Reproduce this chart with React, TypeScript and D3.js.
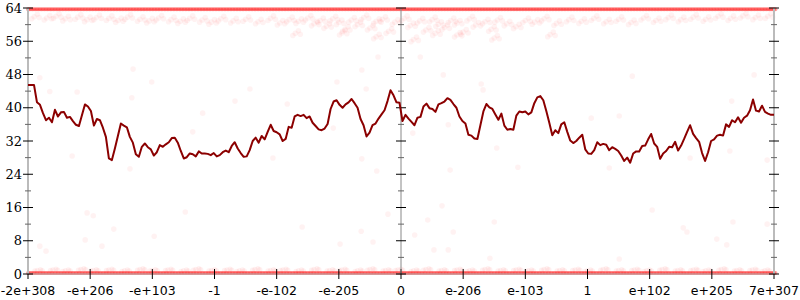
import React from "react";
import * as d3 from "d3";

const W = 800;
const H = 300;

const xTickLabels = ["-2e+308", "-e+206", "-e+103", "-1", "-e-102", "-e-205", "0", "e-206", "e-103", "1", "e+102", "e+205", "7e+307"];
const yMajorTicks = [0, 8, 16, 24, 32, 40, 48, 56, 64];
const yMinorTicks = [4, 12, 20, 28, 36, 44, 52, 60];

// moving average line, evenly sampled across the whole x range
const lineValues = [
  45.5, 45.5, 45.5, 41.3, 40.7, 38.7, 37.0, 37.6, 36.5, 39.5, 37.9, 38.9, 39.0, 37.6, 37.8, 36.8, 35.9, 35.6, 38.2, 40.8,
  40.3, 39.2, 35.7, 37.3, 37.0, 35.2, 33.0, 27.8, 27.4, 30.2, 33.2, 36.2, 35.7, 35.3, 33.0, 31.6, 28.8, 28.2, 30.6, 31.4,
  30.5, 30.0, 28.5, 29.3, 31.0, 30.6, 31.2, 31.7, 32.7, 32.8, 31.6, 29.6, 27.8, 28.1, 29.0, 28.8, 28.3, 29.5,
  29.0, 29.0, 28.9, 28.6, 29.1, 28.3, 28.6, 29.3, 29.7, 29.3, 30.8, 31.7, 30.2, 29.1, 28.2, 28.3, 29.8, 32.0, 32.8, 31.6,
  33.2, 32.4, 34.2, 35.9, 34.4, 34.1, 33.6, 32.0, 32.5, 35.4, 35.2, 37.9, 38.3, 38.0, 38.3, 37.5, 37.9, 36.4, 35.6, 34.8,
  34.6, 35.0, 36.1, 39.7, 41.5, 41.8, 40.7, 40.0, 40.8, 41.3, 42.1, 41.1, 40.0, 37.3, 35.8, 33.1, 34.0, 35.8, 36.2, 37.4,
  38.4, 39.4, 41.6, 44.2, 43.0, 41.3, 41.2,
  36.8, 38.3, 37.4, 36.6, 35.8, 37.6, 37.8, 40.3, 41.0, 39.9, 39.7, 39.0, 40.8, 41.1, 41.5, 42.3, 41.9, 40.9, 40.0, 37.9,
  36.8, 36.2, 33.5, 33.3, 32.6, 32.5, 35.8, 39.1, 40.9, 40.1, 39.7, 38.4, 37.1, 38.6, 35.7, 34.7, 34.9, 34.7, 38.1, 39.1,
  38.9, 39.1, 38.4, 38.9, 41.1, 42.5, 42.8, 41.8, 39.2, 36.4, 33.4, 34.6, 33.9, 36.0, 36.5, 34.2, 32.1, 31.5, 32.0, 32.8,
  33.5, 30.0, 29.0, 28.9, 29.8, 31.7,
  31.0, 31.3, 31.1, 29.8, 30.5, 30.1, 29.6, 28.5, 27.2, 28.0, 26.8, 29.0, 29.5, 29.5, 30.8, 30.9, 32.4, 33.7, 31.4, 30.6,
  27.7, 29.0, 29.6, 30.6, 30.5, 31.8, 29.7, 30.9, 32.5, 34.2, 35.8, 33.7, 32.7, 31.8, 29.1, 27.2, 29.3, 32.0, 32.4, 33.3,
  33.5, 33.3, 36.0, 35.4, 37.0, 36.5, 37.7, 36.4, 37.6, 38.1, 39.4, 42.0, 39.3, 39.1, 40.5, 39.0, 38.6, 38.3, 38.3,
];

// values that pile up at the extremes
const edgeValues = [63.7, 0.25];

// faint dots just below the ceiling: [x position in label units, value]
const upperBand: [number, number][] = [
  [0.1, 61.9], [0.3, 61.6], [0.45, 62.0], [0.6, 61.4], [0.8, 61.8], [0.95, 61.2], [1.1, 61.7], [1.3, 61.5], [1.45, 61.0], [1.6, 61.8],
  [1.8, 61.3], [1.95, 60.9], [2.1, 61.6], [2.3, 61.2], [2.45, 60.8], [2.6, 61.5], [2.8, 61.1], [2.95, 60.6], [3.1, 61.4], [3.3, 60.9],
  [3.5, 61.3], [3.7, 60.7], [3.9, 61.5], [4.05, 60.4], [4.2, 61.2], [4.35, 60.8], [4.5, 61.6], [4.6, 60.2], [4.7, 61.0], [4.8, 59.6],
  [4.9, 61.4], [5.0, 60.5], [5.1, 58.9], [5.2, 61.1], [5.3, 60.0], [5.4, 61.7], [5.5, 59.2], [5.6, 60.8], [5.7, 61.3], [5.8, 58.4],
  [5.9, 60.6], [6.05, 61.5], [6.15, 59.8], [6.3, 60.9], [6.4, 58.7], [6.5, 61.2], [6.6, 60.1], [6.7, 59.3], [6.8, 61.0], [6.9, 60.4],
  [7.0, 58.2], [7.1, 61.4], [7.2, 59.9], [7.35, 60.7], [7.45, 58.9], [7.55, 61.1], [7.7, 60.2], [7.85, 59.5], [8.0, 61.0], [8.15, 60.6],
  [8.3, 61.4], [8.5, 60.3], [8.7, 61.2], [8.9, 60.8], [9.1, 61.5], [9.3, 60.7], [9.5, 61.3], [9.7, 60.5], [9.9, 61.6], [10.1, 61.0],
  [10.3, 61.7], [10.5, 61.2], [10.7, 61.8], [10.9, 61.3], [11.1, 62.0], [11.3, 61.5], [11.5, 62.1], [11.7, 61.7], [11.9, 62.0],
  [5.6, 57.1], [6.2, 56.4], [6.9, 57.5], [7.5, 56.8], [4.3, 57.9], [8.4, 57.6], [5.05, 58.0], [6.55, 57.9],
];

// faint dots just above the floor
const lowerBand: [number, number][] = [
  [0.15, 0.9], [0.4, 1.0], [0.6, 0.8], [0.85, 1.1], [1.05, 0.9], [1.3, 1.0], [1.55, 0.8], [1.8, 1.1], [2.0, 0.9], [2.25, 1.0],
  [2.5, 0.8], [2.7, 1.1], [2.95, 0.9], [3.2, 1.0], [3.4, 0.8], [3.65, 1.1], [3.9, 0.9], [4.1, 1.0], [4.35, 0.8], [4.6, 1.1],
  [4.85, 0.9], [5.05, 1.0], [5.3, 0.8], [5.5, 1.1], [5.75, 0.9], [5.95, 1.0], [6.2, 0.8], [6.4, 1.1], [6.65, 0.9], [6.9, 1.0],
  [7.1, 0.8], [7.35, 1.1], [7.6, 0.9], [7.85, 1.0], [8.05, 0.8], [8.3, 1.1], [8.55, 0.9], [8.8, 1.0], [9.0, 0.8], [9.25, 1.1],
  [9.5, 0.9], [9.75, 1.0], [9.95, 0.8], [10.2, 1.1], [10.45, 0.9], [10.7, 1.0], [10.9, 0.8], [11.15, 1.1], [11.4, 0.9], [11.65, 1.0],
  [11.85, 0.8],
];

// sparse scattered dots
const scatter: [number, number][] = [
  [1.69, 49.3], [0.19, 47.2], [0.35, 43.9], [0.79, 43.8], [1.99, 46.2], [1.67, 42.4],
  [0.95, 14.7], [1.05, 14.0], [0.19, 6.7], [0.29, 5.5], [0.92, 8.2], [1.19, 6.7], [1.38, 10.8], [2.03, 9.1], [2.53, 14.9],
  [5.63, 52.2], [5.37, 49.1], [6.31, 52.2], [6.68, 47.9], [7.32, 44.3], [4.97, 46.2], [5.44, 44.5],
  [6.66, 16.4], [5.79, 14.4], [6.43, 13.0], [5.36, 10.3], [6.22, 9.4], [6.84, 10.1], [5.02, 7.2], [5.55, 7.7], [6.53, 5.8],
  [6.76, 5.8], [7.43, 3.8], [7.5, 12.5], [4.41, 11.3],
  [9.72, 47.6], [11.68, 47.9],
  [10.04, 15.4], [10.54, 11.1], [10.6, 10.1], [11.34, 12.5], [11.89, 12.0], [11.08, 8.4], [11.24, 7.0], [9.51, 3.6],
  [0.71, 28.4], [1.64, 25.3], [2.65, 34.2],
  [3.57, 44.5], [3.33, 41.6], [2.81, 38.7], [4.17, 40.9], [3.94, 27.9], [5.37, 27.7], [5.61, 24.8], [4.91, 35.1],
  [7.29, 45.7], [6.76, 35.9], [6.19, 33.9], [7.54, 30.3], [6.79, 25.0], [9.06, 37.5], [7.88, 25.7],
  [9.51, 38.0], [11.32, 41.6], [10.65, 27.9], [11.29, 29.6], [11.89, 27.4], [9.35, 25.5],
];

// small spreads used to render each band sample as a soft cluster
const bandSpread: [number, number][] = [
  [0, 0], [0.05, 0.6], [-0.04, -0.5], [0.08, -0.2],
];

export default function App() {
  const x = d3.scaleLinear().domain([0, 12]).range([28, 774]);
  const y = d3.scaleLinear().domain([0, 64]).range([274, 8]);
  const n = lineValues.length;
  const su = (i: number) => (i * 12) / (n - 1);
  const sx = (i: number) => x(su(i));
  const line = d3
    .line<number>()
    .x((_, i) => sx(i))
    .y((d) => y(d));

  const axesX = [x(0), x(6), x(12)];
  const halfStep = 6 / (n - 1);

  return (
    <svg width={W} height={H} style={{ display: "block", position: "absolute", left: 0, top: 0 }}>
      <rect width={W} height={H} fill="#fff" />
      {/* dots */}
      <g fill="#ff0000">
        {scatter.map(([u, v], i) => (
          <circle key={"s" + i} cx={x(u)} cy={y(v)} r={2.8} fillOpacity={0.05} />
        ))}
        {bandSpread.map(([du, dv], k) =>
          upperBand.map(([u, v], i) => (
            <circle key={"u" + k + "-" + i} cx={x(u + du)} cy={y(v + dv)} r={2.8} fillOpacity={0.05} />
          ))
        )}
        {bandSpread.map(([du, dv], k) =>
          lowerBand.map(([u, v], i) => (
            <circle key={"l" + k + "-" + i} cx={x(u + du)} cy={y(v + dv * 0.3)} r={2.6} fillOpacity={0.06} />
          ))
        )}
        {edgeValues.map((ev, k) =>
          lineValues.map((_, i) => (
            <g key={"e" + k + "-" + i}>
              <circle cx={sx(i)} cy={y(ev)} r={2} fillOpacity={0.35} />
              <circle cx={x(su(i) + halfStep)} cy={y(ev)} r={2} fillOpacity={0.35} />
            </g>
          ))
        )}
      </g>

      {/* x axis */}
      <line x1={x(0)} x2={x(12)} y1={y(0)} y2={y(0)} stroke="#aaa" strokeWidth={1} />
      {xTickLabels.map((lab, i) => (
        <g key={"xt" + i}>
          <line x1={x(i)} x2={x(i)} y1={y(0) - 5} y2={y(0) + 5} stroke="#000" strokeWidth={1} />
          <text
            x={x(i)}
            y={295}
            textAnchor="middle"
            fontFamily="DejaVu Sans, sans-serif"
            fontSize={12.5}
            fill="#000"
          >
            {lab}
          </text>
        </g>
      ))}

      {/* vertical axes */}
      {axesX.map((ax, k) => (
        <g key={"ax" + k}>
          <line
            x1={ax}
            x2={ax}
            y1={y(64)}
            y2={y(0)}
            stroke={k === 1 ? "#888" : "#bbb"}
            strokeWidth={k === 1 ? 1 : 2}
          />
          {yMajorTicks.map((t) => (
            <line key={"M" + t} x1={ax - 5} x2={ax + 5} y1={y(t)} y2={y(t)} stroke="#000" strokeWidth={1} />
          ))}
          {yMinorTicks.map((t) => (
            <line key={"m" + t} x1={ax - 3} x2={ax + 3} y1={y(t)} y2={y(t)} stroke="#666" strokeWidth={1} />
          ))}
        </g>
      ))}
      {yMajorTicks.map((t) => (
        <text
          key={"yl" + t}
          x={22}
          y={y(t)}
          dy="0.35em"
          textAnchor="end"
          fontFamily="DejaVu Serif, serif"
          fontSize={13}
          fill="#000"
        >
          {t}
        </text>
      ))}

      {/* line */}
      <path d={line(lineValues) || ""} fill="none" stroke="#8b0000" strokeWidth={2} strokeLinejoin="round" />
    </svg>
  );
}
